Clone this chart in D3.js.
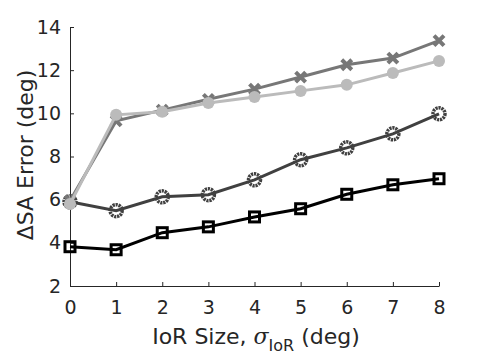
<!DOCTYPE html>
<html>
<head>
<meta charset="utf-8">
<script src="https://cdn.jsdelivr.net/npm/d3@7"></script>
<style>
  body { margin: 0; background: #fff; }
  text { font-family: "DejaVu Sans", sans-serif; fill: #262626; }
</style>
</head>
<body>
<div id="chart"></div>
<script>
// data
const sizes = [0, 1, 2, 3, 4, 5, 6, 7, 8];
const squareSeries = [3.82, 3.68, 4.47, 4.74, 5.2, 5.58, 6.25, 6.69, 6.97];
const ringSeries = [5.9, 5.49, 6.13, 6.23, 6.92, 7.85, 8.4, 9.05, 9.98];
const crossSeries = [5.95, 9.65, 10.15, 10.65, 11.12, 11.68, 12.25, 12.56, 13.37];
const dotSeries = [5.8, 9.93, 10.07, 10.48, 10.76, 11.04, 11.32, 11.87, 12.43];
const yTicks = [2, 4, 6, 8, 10, 12, 14];

const W = 484, H = 359;
const margin = { top: 27, right: 45, bottom: 73, left: 70 };

const svg = d3.select("#chart").append("svg")
    .attr("width", W)
    .attr("height", H);

const x = d3.scaleLinear().domain([0, 8]).range([margin.left, W - margin.right]);
const y = d3.scaleLinear().domain([2, 14]).range([H - margin.bottom, margin.top]);

// axes, ticks pointing inward
const xAxis = svg.append("g")
    .attr("transform", `translate(0,${H - margin.bottom})`)
    .call(d3.axisBottom(x).tickValues(sizes).tickSize(-4).tickPadding(15).tickSizeOuter(0));
const yAxis = svg.append("g")
    .attr("transform", `translate(${margin.left},0)`)
    .call(d3.axisLeft(y).tickValues(yTicks).tickSize(-4).tickPadding(9).tickSizeOuter(0));
[xAxis, yAxis].forEach(g => {
    g.select(".domain").attr("stroke", "#262626").attr("stroke-width", 1);
    g.selectAll(".tick line").attr("stroke", "#262626");
    g.selectAll("text").attr("font-size", 19).attr("fill", "#262626");
});

const line = d3.line().x((d, i) => x(sizes[i])).y(d => y(d));

function drawLine(vals, color) {
    svg.append("path")
        .datum(vals)
        .attr("fill", "none")
        .attr("stroke", color)
        .attr("stroke-width", 3)
        .attr("d", line);
}

// black squares
drawLine(squareSeries, "#000");
svg.append("g").selectAll("rect").data(squareSeries).join("rect")
    .attr("x", (d, i) => x(sizes[i]) - 5)
    .attr("y", d => y(d) - 5)
    .attr("width", 10).attr("height", 10)
    .attr("fill", "none").attr("stroke", "#000").attr("stroke-width", 3);

// dark gray rings
drawLine(ringSeries, "#404040");
svg.append("g").selectAll("circle").data(ringSeries).join("circle")
    .attr("cx", (d, i) => x(sizes[i]))
    .attr("cy", d => y(d))
    .attr("r", 6)
    .attr("fill", "none").attr("stroke", "#404040").attr("stroke-width", 3.5)
    .attr("stroke-dasharray", "2.2 0.8");

// gray crosses
drawLine(crossSeries, "#777");
svg.append("g").selectAll("path").data(crossSeries).join("path")
    .attr("transform", (d, i) => `translate(${x(sizes[i])},${y(d)})`)
    .attr("d", "M-5,-5L5,5M-5,5L5,-5")
    .attr("stroke", "#777").attr("stroke-width", 4);

// light gray dots
drawLine(dotSeries, "#bbb");
svg.append("g").selectAll("circle").data(dotSeries).join("circle")
    .attr("cx", (d, i) => x(sizes[i]))
    .attr("cy", d => y(d))
    .attr("r", 6)
    .attr("fill", "#bbb");

// axis labels
const xl = svg.append("text")
    .attr("x", 256).attr("y", 344)
    .attr("text-anchor", "middle")
    .attr("font-size", 22);
xl.append("tspan").text("IoR Size, ");
xl.append("tspan").attr("font-style", "italic").attr("font-family", "DejaVu Serif, serif").text("σ");
xl.append("tspan").attr("font-size", 16).attr("dy", 7).text("IoR");
xl.append("tspan").attr("dy", -7).text(" (deg)");

svg.append("text")
    .attr("transform", `translate(33,155) rotate(-90)`)
    .attr("text-anchor", "middle")
    .attr("font-size", 22)
    .text("ΔSA Error (deg)");
</script>
</body>
</html>
